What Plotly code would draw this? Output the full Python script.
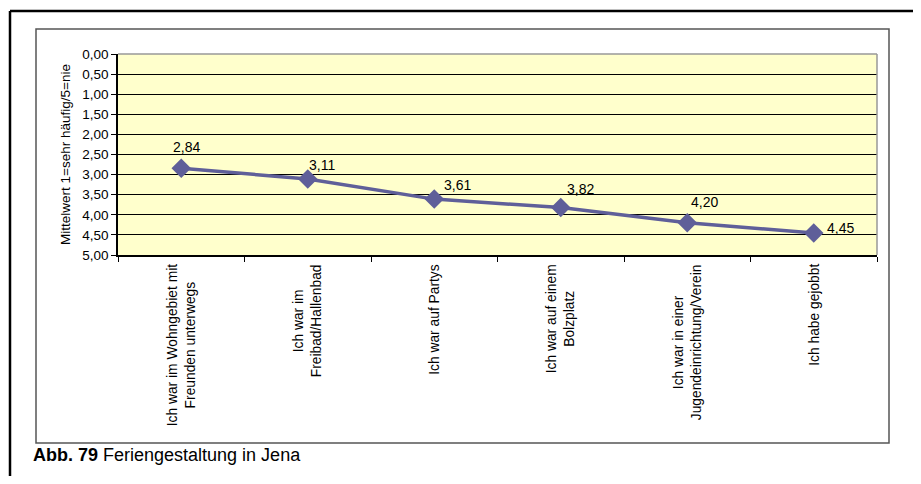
import plotly.graph_objects as go

categories = [
    "Ich war im Wohngebiet mit<br>Freunden unterwegs",
    "Ich war im<br>Freibad/Hallenbad",
    "Ich war auf Partys",
    "Ich war auf einem<br>Bolzplatz",
    "Ich war in einer<br>Jugendeinrichtung/Verein",
    "Ich habe gejobbt",
]
values = [2.84, 3.11, 3.61, 3.82, 4.20, 4.45]
y_ticks = [0, 0.5, 1, 1.5, 2, 2.5, 3, 3.5, 4, 4.5, 5]

# label offsets in px (x, y) as placed in the original
label_shift = [(5, 21), (14, 14), (23, 14), (20, 19), (17, 21), (27, 5)]

# page body has an 8px margin, so work in page pixels and shift
OFF = 8
W, H = 921 - 2 * OFF, 484 - 2 * OFF
ML, MT = 118 - OFF, 54 - OFF
MR = W - (877 - OFF)
MB = H - (255 - OFF)
PW, PH = W - ML - MR, H - MT - MB


def px(xp):
    return (xp - OFF - ML) / PW


def py(yp):
    return (H - MB - (yp - OFF)) / PH


FONT = "Liberation Sans, Arial, sans-serif"
line_col = "#5f5f99"

fig = go.Figure()
fig.add_trace(go.Scatter(
    x=categories, y=values, mode="lines+markers",
    line=dict(color=line_col, width=3.5),
    marker=dict(symbol="diamond", size=15, color=line_col),
    hoverinfo="skip", showlegend=False,
))

annotations = []
for c, v, (dx, dy) in zip(categories, values, label_shift):
    annotations.append(dict(
        x=c, y=v, xref="x", yref="y", text=f"{v:.2f}".replace(".", ","),
        showarrow=False, xshift=dx, yshift=dy,
        font=dict(size=14, color="black", family=FONT),
    ))
    annotations.append(dict(
        x=c, y=py(262), xref="x", yref="paper", text=c, textangle=-90,
        showarrow=False, yanchor="top", xanchor="center", align="center",
        font=dict(size=13.8, color="black", family=FONT),
    ))

annotations.append(dict(
    x=px(31), y=py(455), xref="paper", yref="paper", xanchor="left", yanchor="middle",
    text="<b>Abb. 79</b> Feriengestaltung in Jena", showarrow=False,
    font=dict(size=18, color="black", family=FONT),
))

shapes = [
    # outer page frame
    dict(type="line", xref="paper", yref="paper", x0=px(10), x1=px(925), y0=py(11), y1=py(11),
         line=dict(color="black", width=2.5)),
    dict(type="line", xref="paper", yref="paper", x0=px(10), x1=px(10), y0=py(11), y1=py(490),
         line=dict(color="black", width=2.5)),
    # chart frame
    dict(type="rect", xref="paper", yref="paper", x0=px(36), x1=px(889), y0=py(443), y1=py(29),
         line=dict(color="#555555", width=1.5)),
    # plot area border top/right
    dict(type="line", xref="paper", yref="paper", x0=0, x1=1, y0=1, y1=1,
         line=dict(color="#999999", width=1.5)),
    dict(type="line", xref="paper", yref="paper", x0=1, x1=1, y0=0, y1=1,
         line=dict(color="#999999", width=1.5)),
]

fig.update_layout(
    width=W, height=H,
    margin=dict(l=ML, r=MR, t=MT, b=MB),
    paper_bgcolor="white", plot_bgcolor="#ffffcc",
    separators=",.",
    font=dict(family=FONT, size=13, color="black"),
    annotations=annotations, shapes=shapes,
    xaxis=dict(
        type="category", showticklabels=False, tickson="boundaries",
        ticks="outside", ticklen=5, tickcolor="black", showgrid=False,
        showline=True, linecolor="black", linewidth=1.5, range=[-0.5, 5.5],
    ),
    yaxis=dict(
        range=[5, 0], tickvals=y_ticks, tickformat=".2f",
        ticks="outside", ticklen=5, tickcolor="black",
        showline=True, linecolor="black", linewidth=1.5,
        showgrid=True, gridcolor="#000000", gridwidth=1, zeroline=False,
        tickfont=dict(size=13.5),
        title=dict(text="Mittelwert 1=sehr häufig/5=nie", standoff=9,
                   font=dict(size=13.5)),
    ),
)

fig.write_html("out.html")
